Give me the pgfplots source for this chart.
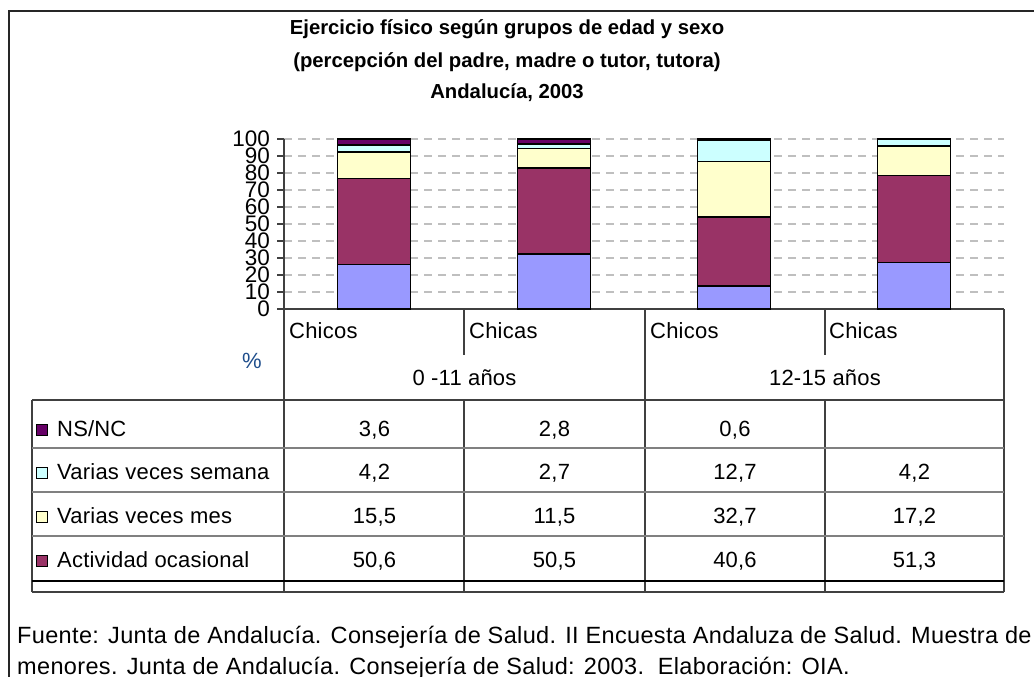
\documentclass[border=0pt]{standalone}
\usepackage{fontspec}
\setmainfont{Liberation Sans}
\newfontfamily\spacedA[LetterSpace=1]{Liberation Sans}
\newfontfamily\spacedB[LetterSpace=1.5]{Liberation Sans}
\usepackage{pgfplots}
\pgfplotsset{compat=1.18}
\definecolor{cBlue}{HTML}{9999FF}
\definecolor{cMaroon}{HTML}{993366}
\definecolor{cYellow}{HTML}{FFFFCC}
\definecolor{cCyan}{HTML}{CCFFFF}
\definecolor{cPurple}{HTML}{660066}
\definecolor{pctBlue}{HTML}{1F4E8C}
\definecolor{lineDark}{HTML}{404040}
\definecolor{lineGray}{HTML}{808080}
\newcommand{\tf}{\fontsize{22}{26}\selectfont}
\newcommand{\tfs}{\spacedA\fontsize{22}{26}\selectfont}
\newcommand{\ff}{\spacedB\fontsize{23.5}{27}\selectfont}
\begin{document}
\begin{tikzpicture}[x=1pt,y=1pt]
\path[use as bounding box] (0,0) rectangle (1034,-677);
\clip (0,0) rectangle (1034,-677);
\fill[white] (0,0) rectangle (1034,-677);
% outer frame
\draw[line width=2pt, black!85] (9,-700) -- (9,-11) -- (1100,-11);
% title
\node[font=\fontsize{20.3}{24}\selectfont\bfseries, anchor=base] at (507,-35) {Ejercicio físico según grupos de edad y sexo};
\node[font=\fontsize{20.3}{24}\selectfont\bfseries, anchor=base] at (507,-67) {(percepción del padre, madre o tutor, tutora)};
\node[font=\fontsize{20.3}{24}\selectfont\bfseries, anchor=base] at (507,-99) {Andalucía, 2003};
\begin{axis}[
  at={(284pt,-309pt)}, anchor=south west,
  scale only axis, width=720pt, height=170pt,
  xmin=0, xmax=4, ymin=0, ymax=100,
  ybar stacked, bar width=73pt,
  axis x line*=bottom, axis y line*=left,
  xtick=\empty,
  ytick={0,10,...,100},
  ymajorgrids,
  grid style={dash pattern=on 8pt off 6pt, black!25, line width=1.2pt},
  axis line style={line width=1.6pt, lineDark, -},
  tick style={line width=1.4pt, lineDark},
  tick align=outside, major tick length=7pt,
  yticklabel style={font=\fontsize{22.5}{22}\selectfont, inner sep=0pt, xshift=-7pt},
  /pgf/number format/assume math mode=true,
  clip=false,
]
\addplot[fill=cBlue, draw=black, line width=1.6pt] coordinates {(0.5,26.1) (1.5,32.5) (2.5,13.4) (3.5,27.3)};
\addplot[fill=cMaroon, draw=black, line width=1.6pt] coordinates {(0.5,50.6) (1.5,50.5) (2.5,40.6) (3.5,51.3)};
\addplot[fill=cYellow, draw=black, line width=1.6pt] coordinates {(0.5,15.5) (1.5,11.5) (2.5,32.7) (3.5,17.2)};
\addplot[fill=cCyan, draw=black, line width=1.6pt] coordinates {(0.5,4.2) (1.5,2.7) (2.5,12.7) (3.5,4.2)};
\addplot[fill=cPurple, draw=black, line width=1.6pt] coordinates {(0.5,3.6) (1.5,2.8) (2.5,0.6) (3.5,0)};
\end{axis}
% table lines
\draw[line width=1.6pt, lineDark] (284,-309) -- (284,-592);
\draw[line width=1.6pt, lineDark] (645,-309) -- (645,-592);
\draw[line width=1.6pt, lineDark] (1004,-309) -- (1004,-592);
\draw[line width=1.6pt, lineDark] (464,-309) -- (464,-355);
\draw[line width=1.6pt, lineDark] (825,-309) -- (825,-355);
\draw[line width=1.6pt, lineDark] (464,-400) -- (464,-592);
\draw[line width=1.6pt, lineDark] (825,-400) -- (825,-592);
\draw[line width=1.6pt, lineDark] (32,-400) -- (32,-592);
\draw[line width=1.6pt, lineDark] (32,-400) -- (1004,-400);
\draw[line width=1.1pt, lineGray] (32,-448) -- (1004,-448);
\draw[line width=1.1pt, lineGray] (32,-492) -- (1004,-492);
\draw[line width=1.1pt, lineGray] (32,-536) -- (1004,-536);
\draw[line width=1.4pt, black] (32,-581) -- (1004,-581);
\draw[line width=1.8pt, lineDark] (32,-592) -- (1004,-592);
% header
\node[font=\tfs, anchor=base west, inner sep=0pt] at (289,-338.5) {Chicos};
\node[font=\tfs, anchor=base west, inner sep=0pt] at (469,-338.5) {Chicas};
\node[font=\tfs, anchor=base west, inner sep=0pt] at (650,-338.5) {Chicos};
\node[font=\tfs, anchor=base west, inner sep=0pt] at (829,-338.5) {Chicas};
\node[font=\tfs, anchor=base, inner sep=0pt] at (464.5,-385) {0 -11 años};
\node[font=\tfs, anchor=base, inner sep=0pt] at (825,-385) {12-15 años};
\node[font=\tf, anchor=base, inner sep=0pt, text=pctBlue] at (252,-368) {\%};
% legend rows
\foreach \yb/\col/\lab in {436/cPurple/NS\slash NC, 479/cCyan/Varias veces semana, 523/cYellow/Varias veces mes, 567/cMaroon/Actividad ocasional}{
  \fill[\col, draw=black, line width=1pt] (36.5,-\yb+1) rectangle (47.5,-\yb+12);
  \node[font=\tfs, anchor=base west, inner sep=0pt] at (57,-\yb) {\lab};
}
% values
\node[font=\tfs, anchor=base, inner sep=0pt] at (374.5,-436) {3,6};
\node[font=\tfs, anchor=base, inner sep=0pt] at (554.5,-436) {2,8};
\node[font=\tfs, anchor=base, inner sep=0pt] at (735,-436) {0,6};
\node[font=\tfs, anchor=base, inner sep=0pt] at (374.5,-479) {4,2};
\node[font=\tfs, anchor=base, inner sep=0pt] at (554.5,-479) {2,7};
\node[font=\tfs, anchor=base, inner sep=0pt] at (735,-479) {12,7};
\node[font=\tfs, anchor=base, inner sep=0pt] at (914.5,-479) {4,2};
\node[font=\tfs, anchor=base, inner sep=0pt] at (374.5,-523) {15,5};
\node[font=\tfs, anchor=base, inner sep=0pt] at (554.5,-523) {11,5};
\node[font=\tfs, anchor=base, inner sep=0pt] at (735,-523) {32,7};
\node[font=\tfs, anchor=base, inner sep=0pt] at (914.5,-523) {17,2};
\node[font=\tfs, anchor=base, inner sep=0pt] at (374.5,-567) {50,6};
\node[font=\tfs, anchor=base, inner sep=0pt] at (554.5,-567) {50,5};
\node[font=\tfs, anchor=base, inner sep=0pt] at (735,-567) {40,6};
\node[font=\tfs, anchor=base, inner sep=0pt] at (914.5,-567) {51,3};
% footer
\node[font=\ff, anchor=base west, inner sep=0pt] at (17,-643) {Fuente: Junta de Andalucía. Consejería de Salud. II Encuesta Andaluza de Salud. Muestra de};
\node[font=\ff, anchor=base west, inner sep=0pt] at (17,-674) {menores. Junta de Andalucía. Consejería de Salud: 2003.\ \ Elaboración: OIA.};
\end{tikzpicture}
\end{document}
